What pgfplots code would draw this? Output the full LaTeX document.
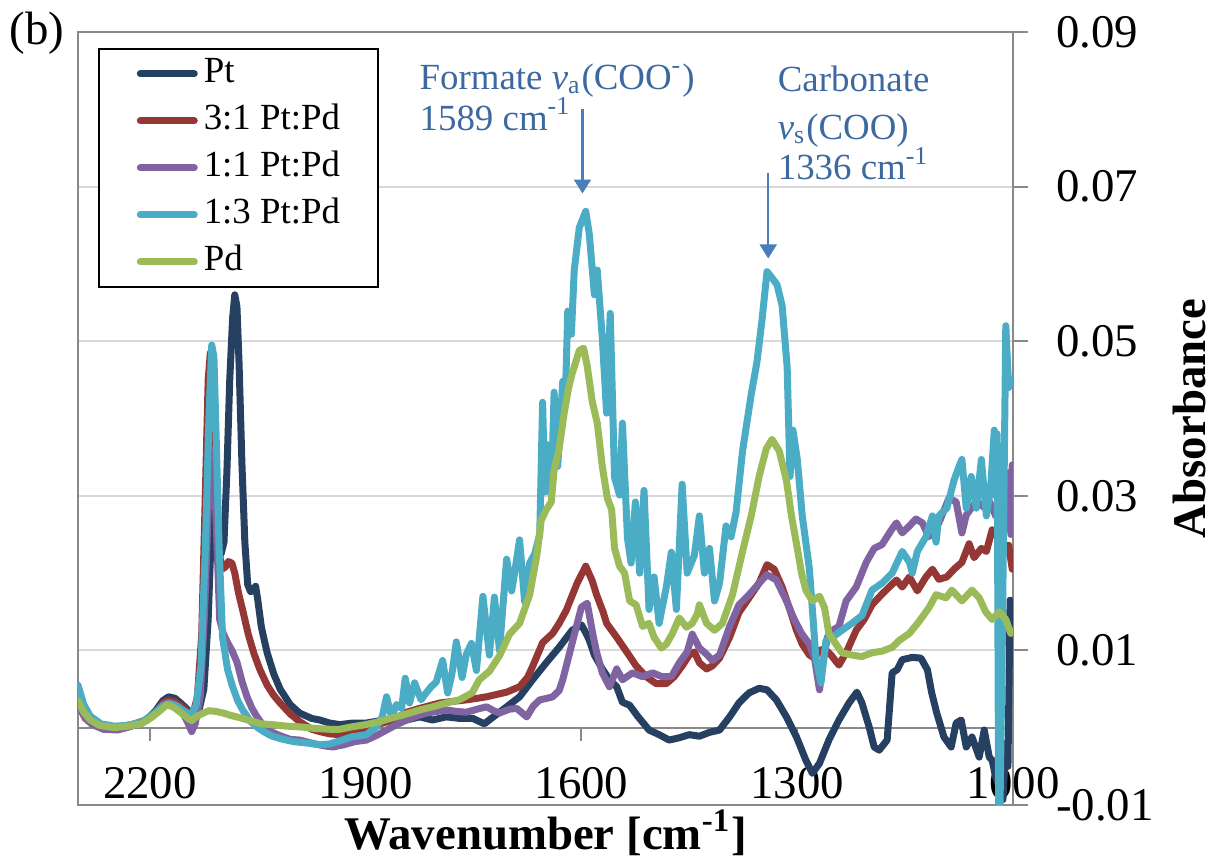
\documentclass[border=0pt]{standalone}
\usepackage{fontspec}
\setmainfont{Liberation Serif}
\usepackage{pgfplots}
\pgfplotsset{compat=1.18}
\usetikzlibrary{arrows.meta}

\definecolor{cPt}{HTML}{254061}
\definecolor{cA}{HTML}{953735}
\definecolor{cB}{HTML}{8064A2}
\definecolor{cC}{HTML}{4BACC6}
\definecolor{cPd}{HTML}{9BBB59}
\definecolor{annot}{HTML}{3C6AA0}
\definecolor{arrowc}{HTML}{4A7EBB}
\definecolor{gridc}{HTML}{D9D9D9}
\definecolor{axisc}{HTML}{898989}

\begin{document}
\begin{tikzpicture}
% page = reference proportions, 1 px = 0.25bp
\path[use as bounding box] (-19.5bp,-14bp) rectangle (283.25bp,201.25bp);
\begin{axis}[
  scale only axis,
  width=233.75bp, height=193.25bp,
  clip mode=individual,
  x dir=reverse,
  xmin=1000, xmax=2300,
  ymin=-0.01, ymax=0.09,
  scaled y ticks=false, scaled x ticks=false,
  axis line style={axisc, line width=0.5bp},
  xtick={1000,1300,1600,1900,2200},
  xticklabels={1000,1300,1600,1900,2200},
  xtick style={draw=none},
  xticklabel style={anchor=base, yshift=5.5bp},
  ytick={-0.01,0.01,0.03,0.05,0.07,0.09},
  yticklabels={-0.01,0.01,0.03,0.05,0.07,0.09},
  ytick pos=right, yticklabel pos=right,
  tick align=outside,
  major tick length=3.75bp,
  ytick style={axisc, line width=0.5bp},
  yticklabel style={anchor=west, xshift=3.5bp},
  tick label style={font=\fontsize{11.75}{14}\selectfont},
  ymajorgrids=true,
  major grid style={gridc, line width=0.5bp},
  every axis plot/.append style={line width=1.75bp, line join=round, line cap=round},
  legend cell align=left,
  legend image code/.code={\draw[#1] (0bp,0bp) -- (13.5bp,0bp);},
  legend style={at={(axis description cs:0.0214,0.9793)}, anchor=north west,
    draw=black, line width=0.4bp, fill=white,
    font=\fontsize{9.25}{11}\selectfont,
    inner xsep=9.5bp, inner ysep=2bp, row sep=3.25bp,
    nodes={inner sep=0pt, text height=6.5bp, text depth=2bp},
    /tikz/every odd column/.append style={column sep=1.5bp}},
]
\draw[axisc, line width=0.6bp] (axis cs:2300,0) -- (axis cs:1000,0);
\draw[axisc, line width=0.5bp] (axis cs:2200,0) -- ++(0pt,-3.25bp);
\draw[axisc, line width=0.5bp] (axis cs:1900,0) -- ++(0pt,-3.25bp);
\draw[axisc, line width=0.5bp] (axis cs:1600,0) -- ++(0pt,-3.25bp);
\draw[axisc, line width=0.5bp] (axis cs:1300,0) -- ++(0pt,-3.25bp);

% Pt
\addplot[cPt] coordinates {
(2300,0.0030) (2290,0.0015) (2280,0.0006) (2265,0.0001) (2245,0.0000) (2225,0.0003)
(2205,0.0010) (2192,0.0022) (2182,0.0035) (2174,0.0040) (2165,0.0038) (2155,0.0030)
(2146,0.0022) (2140,0.0018) (2132,0.0022) (2125,0.0050) (2119,0.0140) (2114,0.0270)
(2110,0.0290) (2106,0.0255) (2101,0.0225) (2097,0.0240) (2093,0.0330) (2089,0.0450)
(2085,0.0530) (2082,0.0560) (2079,0.0545) (2076,0.0470) (2072,0.0340) (2068,0.0240)
(2064,0.0185) (2060,0.0176) (2056,0.0178) (2053,0.0183) (2050,0.0165) (2045,0.0130)
(2037,0.0097) (2028,0.0070) (2019,0.0050) (2005,0.0030) (1992,0.0019) (1975,0.0012)
(1964,0.0010) (1950,0.0006) (1936,0.0004) (1918,0.0006) (1899,0.0006) (1880,0.0009)
(1862,0.0010) (1843,0.0010) (1825,0.0014) (1807,0.0010) (1788,0.0014) (1769,0.0012)
(1751,0.0012) (1735,0.0005) (1724,0.0013) (1704,0.0027) (1686,0.0040) (1668,0.0062)
(1649,0.0084) (1631,0.0104) (1613,0.0126) (1600,0.0133) (1593,0.0121) (1589,0.0113)
(1582,0.0094) (1571,0.0076) (1561,0.0062) (1551,0.0053) (1543,0.0033) (1533,0.0029)
(1522,0.0015) (1506,-0.0003) (1492,-0.0009) (1478,-0.0016) (1464,-0.0013) (1450,-0.0009)
(1436,-0.0011) (1422,-0.0006) (1408,-0.0003) (1394,0.0014) (1381,0.0032) (1367,0.0045)
(1353,0.0051) (1342,0.0049) (1329,0.0036) (1315,0.0014) (1301,-0.0012) (1288,-0.0042)
(1279,-0.0059) (1269,-0.0046) (1256,-0.0016) (1242,0.0010) (1228,0.0032) (1217,0.0046)
(1210,0.0032) (1200,0.0001) (1193,-0.0025) (1186,-0.0029) (1175,-0.0016) (1168,0.0071)
(1161,0.0075) (1154,0.0088) (1140,0.0091) (1128,0.0090) (1119,0.0075) (1113,0.0045)
(1106,0.0019) (1096,-0.0012) (1086,-0.0025) (1079,0.0006) (1072,0.0010) (1065,-0.0025)
(1057,-0.0012) (1047,-0.0038) (1040,-0.0003) (1033,-0.0038) (1029,-0.0042) (1024,-0.0064)
(1018,-0.0080) (1014,-0.0093) (1010,-0.0020) (1007,-0.0050) (1004,0.0165) (1001,0.0160)
};
\addlegendentry{Pt}

% 3:1 Pt:Pd
\addplot[cA] coordinates {
(2300,0.0035) (2290,0.0018) (2280,0.0008) (2265,0.0002) (2245,0.0001) (2225,0.0004)
(2205,0.0010) (2192,0.0020) (2182,0.0032) (2174,0.0036) (2165,0.0034) (2155,0.0027)
(2146,0.0020) (2140,0.0018) (2134,0.0040) (2128,0.0120) (2123,0.0300) (2119,0.0450)
(2116,0.0485) (2112,0.0430) (2108,0.0320) (2104,0.0230) (2100,0.0205) (2095,0.0208)
(2091,0.0215) (2086,0.0213) (2082,0.0200) (2077,0.0175) (2071,0.0152) (2063,0.0120)
(2055,0.0095) (2047,0.0075) (2037,0.0055) (2028,0.0042) (2019,0.0032) (2005,0.0018)
(1992,0.0008) (1975,-0.0002) (1964,-0.0005) (1950,-0.0008) (1936,-0.0009) (1920,-0.0006)
(1899,-0.0003) (1880,0.0005) (1862,0.0010) (1843,0.0020) (1825,0.0025) (1797,0.0032)
(1770,0.0035) (1760,0.0036) (1745,0.0038) (1732,0.0040) (1718,0.0043) (1704,0.0046)
(1686,0.0053) (1675,0.0065) (1668,0.0079) (1654,0.0110) (1640,0.0122) (1631,0.0135)
(1621,0.0152) (1606,0.0187) (1594,0.0209) (1585,0.0190) (1579,0.0172) (1570,0.0150)
(1565,0.0135) (1551,0.0117) (1537,0.0098) (1524,0.0080) (1510,0.0066) (1496,0.0057)
(1482,0.0057) (1471,0.0066) (1460,0.0080) (1450,0.0094) (1443,0.0098) (1436,0.0084)
(1426,0.0076) (1418,0.0080) (1408,0.0090) (1394,0.0117) (1381,0.0149) (1367,0.0168)
(1353,0.0187) (1342,0.0211) (1332,0.0205) (1321,0.0182) (1311,0.0155) (1301,0.0126)
(1293,0.0108) (1283,0.0094) (1276,0.0090) (1269,0.0100) (1262,0.0102) (1253,0.0094)
(1242,0.0081) (1231,0.0099) (1218,0.0126) (1207,0.0140) (1196,0.0159) (1183,0.0172)
(1172,0.0182) (1162,0.0191) (1154,0.0182) (1144,0.0195) (1133,0.0177) (1121,0.0195)
(1112,0.0205) (1103,0.0192) (1092,0.0195) (1082,0.0205) (1071,0.0214) (1061,0.0238)
(1054,0.0220) (1044,0.0232) (1037,0.0228) (1029,0.0256) (1019,0.0243) (1012,0.0228)
(1006,0.0236) (1001,0.0205)
};
\addlegendentry{3:1 Pt:Pd}

% 1:1 Pt:Pd
\addplot[cB] coordinates {
(2300,0.0030) (2290,0.0012) (2280,0.0004) (2265,-0.0002) (2245,-0.0003) (2225,0.0002)
(2205,0.0009) (2192,0.0020) (2182,0.0030) (2174,0.0033) (2165,0.0030) (2155,0.0020)
(2148,0.0008) (2142,-0.0005) (2137,0.0005) (2130,0.0040) (2124,0.0150) (2119,0.0280)
(2114,0.0360) (2110,0.0320) (2106,0.0220) (2103,0.0140) (2098,0.0122) (2092,0.0110)
(2086,0.0100) (2079,0.0085) (2072,0.0060) (2065,0.0040) (2058,0.0025) (2051,0.0014)
(2044,0.0005) (2037,-0.0003) (2020,-0.0010) (2005,-0.0015) (1992,-0.0016) (1975,-0.0020)
(1960,-0.0023) (1946,-0.0025) (1930,-0.0022) (1915,-0.0018) (1899,-0.0016) (1885,-0.0010)
(1871,-0.0003) (1857,0.0004) (1843,0.0010) (1829,0.0015) (1815,0.0019) (1801,0.0021)
(1788,0.0023) (1773,0.0021) (1760,0.0020) (1745,0.0024) (1732,0.0027) (1722,0.0022)
(1714,0.0019) (1700,0.0024) (1690,0.0025) (1676,0.0014) (1667,0.0028) (1658,0.0036)
(1648,0.0038) (1640,0.0040) (1631,0.0048) (1626,0.0062) (1612,0.0113) (1600,0.0156)
(1592,0.0161) (1584,0.0120) (1579,0.0098) (1571,0.0071) (1561,0.0053) (1551,0.0076)
(1543,0.0062) (1529,0.0071) (1515,0.0066) (1501,0.0071) (1488,0.0066) (1475,0.0066)
(1464,0.0084) (1453,0.0098) (1446,0.0121) (1436,0.0103) (1426,0.0095) (1418,0.0087)
(1408,0.0094) (1394,0.0131) (1381,0.0159) (1367,0.0172) (1353,0.0187) (1342,0.0198)
(1329,0.0191) (1315,0.0164) (1304,0.0140) (1294,0.0122) (1283,0.0108) (1276,0.0090)
(1269,0.0049) (1265,0.0080) (1258,0.0117) (1251,0.0126) (1242,0.0131) (1232,0.0164)
(1218,0.0182) (1204,0.0214) (1193,0.0232) (1182,0.0237) (1169,0.0256) (1162,0.0265)
(1154,0.0252) (1144,0.0261) (1135,0.0270) (1126,0.0265) (1117,0.0247) (1103,0.0265)
(1089,0.0297) (1079,0.0292) (1071,0.0252) (1065,0.0275) (1051,0.0293) (1040,0.0285)
(1033,0.0293) (1024,0.0274) (1010,0.0320) (1006,0.0330) (1003,0.0250) (1001,0.0340)
};
\addlegendentry{1:1 Pt:Pd}

% 1:3 Pt:Pd
\addplot[cC] coordinates {
(2300,0.0055) (2292,0.0030) (2283,0.0015) (2268,0.0005) (2250,0.0002) (2230,0.0003)
(2210,0.0008) (2195,0.0018) (2182,0.0028) (2172,0.0031) (2162,0.0028) (2150,0.0020)
(2143,0.0017) (2136,0.0028) (2129,0.0080) (2123,0.0230) (2118,0.0400) (2114,0.0495)
(2111,0.0480) (2108,0.0380) (2104,0.0240) (2099,0.0117) (2092,0.0075) (2085,0.0053)
(2078,0.0035) (2071,0.0023) (2060,0.0008) (2050,0.0000) (2040,-0.0006) (2030,-0.0011)
(2015,-0.0015) (2000,-0.0018) (1980,-0.0020) (1964,-0.0022) (1950,-0.0021) (1936,-0.0017)
(1920,-0.0012) (1899,-0.0009) (1884,0.0002) (1877,0.0014) (1871,0.0040) (1864,0.0014)
(1857,0.0030) (1850,0.0025) (1845,0.0064) (1839,0.0032) (1832,0.0058) (1823,0.0036)
(1816,0.0045) (1809,0.0053) (1802,0.0059) (1793,0.0087) (1786,0.0045) (1780,0.0070)
(1774,0.0111) (1766,0.0065) (1760,0.0095) (1753,0.0109) (1746,0.0074) (1737,0.0170)
(1728,0.0094) (1721,0.0169) (1714,0.0100) (1704,0.0218) (1697,0.0177) (1693,0.0200)
(1686,0.0243) (1679,0.0163) (1672,0.0213) (1665,0.0225) (1658,0.0250) (1654,0.0421)
(1651,0.0305) (1647,0.0366) (1642,0.0301) (1638,0.0434) (1633,0.0338) (1626,0.0448)
(1622,0.0439) (1619,0.0539) (1614,0.0509) (1610,0.0592) (1603,0.0647) (1594,0.0668)
(1589,0.0638) (1582,0.0560) (1578,0.0592) (1571,0.0504) (1565,0.0407) (1560,0.0536)
(1554,0.0324) (1547,0.0301) (1543,0.0394) (1536,0.0245) (1531,0.0213) (1525,0.0292)
(1519,0.0200) (1513,0.0307) (1506,0.0153) (1499,0.0195) (1492,0.0135) (1482,0.0182)
(1475,0.0227) (1468,0.0153) (1460,0.0315) (1453,0.0200) (1443,0.0223) (1436,0.0274)
(1429,0.0200) (1422,0.0232) (1415,0.0164) (1408,0.0187) (1399,0.0261) (1392,0.0247)
(1385,0.0279) (1376,0.0358) (1364,0.0431) (1356,0.0473) (1349,0.0527) (1342,0.0590)
(1335,0.0582) (1328,0.0573) (1321,0.0546) (1314,0.0467) (1310,0.0325) (1306,0.0385)
(1300,0.0348) (1293,0.0274) (1283,0.0205) (1274,0.0090) (1267,0.0058) (1260,0.0113)
(1251,0.0117) (1238,0.0126) (1224,0.0135) (1210,0.0145) (1196,0.0178) (1182,0.0187)
(1168,0.0200) (1154,0.0228) (1144,0.0214) (1140,0.0200) (1133,0.0228) (1121,0.0247)
(1112,0.0274) (1107,0.0240) (1103,0.0274) (1092,0.0284) (1082,0.0320) (1075,0.0338)
(1071,0.0347) (1065,0.0284) (1058,0.0325) (1051,0.0284) (1044,0.0347) (1037,0.0274)
(1031,0.0311) (1026,0.0385) (1024,0.0300) (1022,0.0380) (1020,-0.0099) (1018,-0.0099)
(1015,0.0100) (1010,0.0520) (1006,0.0440) (1003,0.0450) (1001,0.0445)
};
\addlegendentry{1:3 Pt:Pd}

% Pd
\addplot[cPd] coordinates {
(2300,0.0035) (2292,0.0020) (2283,0.0010) (2270,0.0003) (2250,0.0000) (2230,0.0002)
(2212,0.0005) (2198,0.0013) (2186,0.0022) (2176,0.0030) (2166,0.0026) (2155,0.0018)
(2147,0.0012) (2142,0.0009) (2136,0.0014) (2128,0.0018) (2118,0.0022) (2108,0.0021)
(2098,0.0019) (2088,0.0016) (2075,0.0013) (2060,0.0009) (2045,0.0005) (2030,0.0004)
(2010,0.0002) (1990,0.0001) (1970,-0.0001) (1950,-0.0002) (1936,-0.0002) (1920,0.0001)
(1900,0.0004) (1880,0.0008) (1862,0.0013) (1843,0.0018) (1825,0.0023) (1807,0.0027)
(1788,0.0032) (1770,0.0036) (1752,0.0045) (1742,0.0062) (1728,0.0073) (1714,0.0093)
(1700,0.0121) (1686,0.0135) (1672,0.0172) (1662,0.0223) (1656,0.0268) (1649,0.0282)
(1642,0.0292) (1638,0.0333) (1631,0.0361) (1624,0.0407) (1618,0.0439) (1613,0.0458)
(1603,0.0488) (1597,0.0491) (1592,0.0468) (1585,0.0422) (1578,0.0394) (1571,0.0338)
(1564,0.0297) (1558,0.0282) (1554,0.0232) (1547,0.0209) (1540,0.0200) (1533,0.0164)
(1524,0.0159) (1515,0.0131) (1506,0.0135) (1499,0.0117) (1489,0.0103) (1482,0.0108)
(1474,0.0121) (1464,0.0142) (1454,0.0130) (1446,0.0135) (1439,0.0147) (1436,0.0159)
(1426,0.0135) (1415,0.0126) (1404,0.0135) (1390,0.0172) (1376,0.0228) (1364,0.0274)
(1353,0.0325) (1343,0.0361) (1335,0.0373) (1325,0.0358) (1315,0.0320) (1308,0.0274)
(1301,0.0238) (1294,0.0200) (1288,0.0178) (1279,0.0164) (1269,0.0170) (1262,0.0155)
(1256,0.0122) (1246,0.0108) (1238,0.0097) (1224,0.0094) (1210,0.0092) (1196,0.0097)
(1182,0.0099) (1168,0.0104) (1158,0.0113) (1144,0.0122) (1131,0.0137) (1117,0.0155)
(1107,0.0172) (1093,0.0168) (1085,0.0178) (1071,0.0164) (1057,0.0178) (1047,0.0168)
(1038,0.0150) (1029,0.0140) (1019,0.0150) (1010,0.0140) (1003,0.0122) (1001,0.0125)
};
\addlegendentry{Pd}

% annotations
\node[anchor=base west, inner sep=0pt, text=annot, font=\fontsize{9.25}{11}\selectfont]
  at (axis cs:1826,0.0826) {Formate \textit{ν}\textsubscript{a}(COO\textsuperscript{-})};
\node[anchor=base west, inner sep=0pt, text=annot, font=\fontsize{9.25}{11}\selectfont]
  at (axis cs:1826,0.0773) {1589 cm\textsuperscript{-1}};
\node[anchor=base west, inner sep=0pt, text=annot, font=\fontsize{9.25}{11}\selectfont]
  at (axis cs:1328,0.0823) {Carbonate};
\node[anchor=base west, inner sep=0pt, text=annot, font=\fontsize{9.25}{11}\selectfont]
  at (axis cs:1328,0.0761) {\textit{ν}\textsubscript{s}(COO)};
\node[anchor=base west, inner sep=0pt, text=annot, font=\fontsize{9.25}{11}\selectfont]
  at (axis cs:1328,0.0709) {1336 cm\textsuperscript{-1}};
\draw[arrowc, line width=0.6bp, -{Triangle[length=3.5bp,width=4.2bp]}]
  (axis cs:1598.6,0.0801) -- (axis cs:1598.6,0.0691);
\draw[arrowc, line width=0.6bp, -{Triangle[length=3.5bp,width=4.2bp]}]
  (axis cs:1340.3,0.0718) -- (axis cs:1340.3,0.0607);

% labels
\node[font=\fontsize{11.75}{14}\selectfont\bfseries] at (axis description cs:0.5,-0.036)
  {Wavenumber [cm\textsuperscript{-1}]};
\node[rotate=90, font=\fontsize{11.75}{14}\selectfont\bfseries] at (axis description cs:1.189,0.5)
  {Absorbance};
\node[font=\fontsize{11.75}{14}\selectfont] at (axis description cs:-0.0439,0.9987) {(b)};
\end{axis}
\end{tikzpicture}
\end{document}
